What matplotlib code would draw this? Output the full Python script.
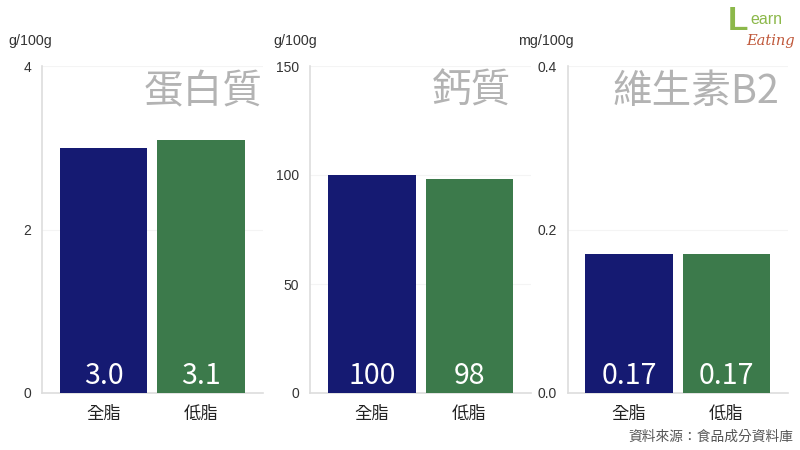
import matplotlib
matplotlib.use('Agg')
import matplotlib.pyplot as plt

plt.rcParams['font.family'] = ['Noto Sans CJK TC', 'DejaVu Sans']

categories = ['全脂', '低脂']
titles = ['蛋白質', '鈣質', '維生素B2']
units = ['g/100g', 'g/100g', 'mg/100g']
protein = [3.0, 3.1]
calcium = [100, 98]
vitamin = [0.17, 0.17]
protein_labels = ['3.0', '3.1']
calcium_labels = ['100', '98']
vitamin_labels = ['0.17', '0.17']
protein_ticks = [0, 2, 4]
calcium_ticks = [0, 50, 100, 150]
vitamin_ticks = [0.0, 0.2, 0.4]
protein_ticklabels = ['0', '2', '4']
calcium_ticklabels = ['0', '50', '100', '150']
vitamin_ticklabels = ['0.0', '0.2', '0.4']

colors = ['#151a72', '#3c7a4b']
W, H = 800, 450

fig = plt.figure(figsize=(8, 4.5), dpi=100)


def panel(left, right, center0, values, labels, ticks, ticklabels, title, unit, unit_x, title_right):
    ax = fig.add_axes([left / W, 1 - 393 / H, (right - left) / W, 327 / H])
    ax.bar([0, 1], values, width=0.9, color=colors, zorder=3)
    ax.set_xlim((left - center0) / 97.5, (right - center0) / 97.5)
    ax.set_ylim(ticks[0], ticks[-1])
    ax.set_xticks([0, 1])
    ax.set_xticklabels(categories, fontsize=12.5, color='#222222')
    ax.set_yticks(ticks)
    ax.set_yticklabels(ticklabels, fontsize=10, color='#333333', family=['Liberation Sans'])
    ax.tick_params(axis='both', length=0)
    ax.tick_params(axis='x', pad=9)
    ax.tick_params(axis='y', pad=8)
    ax.grid(axis='y', color='#f4f4f4', lw=0.8, zorder=0)
    ax.set_axisbelow(True)
    for s in ['top', 'right']:
        ax.spines[s].set_visible(False)
    for s in ['left', 'bottom']:
        ax.spines[s].set_color('#dddddd')
        ax.spines[s].set_linewidth(1.2)
    for i, lab in enumerate(labels):
        ax.annotate(lab, (i, 0), xytext=(0, 1.5), textcoords='offset points',
                    ha='center', va='bottom', color='white', fontsize=20.5,
                    fontweight='light', zorder=4)
    fig.text(title_right / W, 1 - 92 / H, title, ha='right', va='center',
             fontsize=28.5, color='#b3b3b3', fontweight='light')
    fig.text(unit_x / W, 1 - 41 / H, unit, ha='left', va='center',
             fontsize=10.3, color='#333333', family=['Liberation Sans'])


panel(42, 263, 103.5, protein, protein_labels, protein_ticks, protein_ticklabels, titles[0], units[0], 8, 262)
panel(310, 531, 372, calcium, calcium_labels, calcium_ticks, calcium_ticklabels, titles[1], units[1], 273, 511)
panel(568, 788, 629, vitamin, vitamin_labels, vitamin_ticks, vitamin_ticklabels, titles[2], units[2], 518, 779)

fig.text(793 / W, 1 - 437 / H, '資料來源：食品成分資料庫', ha='right', va='center',
         fontsize=9.9, color='#555555')

# logo
fig.text(728 / W, 1 - 22 / H, 'L', ha='left', va='center', fontsize=24,
         color='#8cb84a', family=['Liberation Sans'], fontweight='bold')
fig.text(750 / W, 1 - 19 / H, 'earn', ha='left', va='center', fontsize=11.5,
         color='#8cb84a', family=['Liberation Sans'])
fig.text(746 / W, 1 - 41 / H, 'Eating', ha='left', va='center', fontsize=10.5,
         color='#c0583a', family=['DejaVu Serif'], style='italic')

fig.savefig('out.png', dpi=100)
